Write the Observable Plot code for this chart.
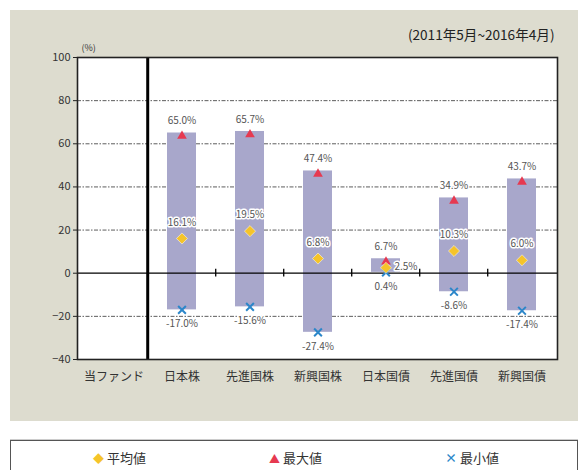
<!DOCTYPE html>
<html><head><meta charset="utf-8">
<script src="https://cdn.jsdelivr.net/npm/d3@7"></script>
<script src="https://cdn.jsdelivr.net/npm/@observablehq/plot@0.6"></script>
<style>
html,body{margin:0;padding:0;background:#fff;width:583px;height:470px;overflow:hidden;font-family:"Noto Sans CJK JP","Noto Sans",sans-serif;}
#panel{position:absolute;left:10px;top:10px;width:568px;height:411px;background:#dddccf;}
#legend{position:absolute;left:10px;top:440px;width:566px;height:40px;border:1px solid #555;background:#fff;box-shadow:0 -1px 0 #ccc;}
.li{position:absolute;top:7px;font-size:13px;color:#333;white-space:nowrap;}
.li span{display:inline-block;margin-right:3px;}
</style></head>
<body>
<div id="panel"></div>
<div id="legend">
  <div class="li" style="left:82px"><span style="color:#f5c42a;font-size:11px">◆</span>平均値</div>
  <div class="li" style="left:258px"><span style="color:#e63950;font-size:11px">▲</span>最大値</div>
  <div class="li" style="left:434px"><span style="color:#2b86c9;font-size:12px;font-weight:bold">×</span>最小値</div>
</div>
<script>
const categories = ["当ファンド","日本株","先進国株","新興国株","日本国債","先進国債","新興国債"];
const assets = ["日本株","先進国株","新興国株","日本国債","先進国債","新興国債"];
const maxValues = [65.0, 65.7, 47.4, 6.7, 34.9, 43.7];
const avgValues = [16.1, 19.5, 6.8, 2.5, 10.3, 6.0];
const minValues = [-17.0, -15.6, -27.4, 0.4, -8.6, -17.4];
const yTicks = [-40, -20, 0, 20, 40, 60, 80, 100];
const gridValues = [-20, 20, 40, 60, 80];
const periodLabel = "(2011年5月~2016年4月)";
const unitLabel = "(%)";

const data = assets.map((c, i) => ({cat: c, max: maxValues[i], avg: avgValues[i], min: minValues[i]}));
const fmt = v => v.toFixed(1) + "%";

const W = 568, H = 411, mL = 67, mR = 21, mT = 47, mB = 62;
const half = (W - mL - mR) / categories.length / 2;
const halo = {fill: "#555", stroke: "white", strokeWidth: 3, fontSize: 10};

const chart = Plot.plot({
  width: W, height: H,
  marginLeft: mL, marginRight: mR, marginTop: mT, marginBottom: mB,
  style: {background: "transparent", fontFamily: "'Noto Sans CJK JP', sans-serif", color: "#333"},
  x: {type: "band", domain: categories, paddingInner: 0.58, paddingOuter: 0.29, label: null},
  y: {domain: [-40, 100], ticks: yTicks, label: null},
  marks: [
    Plot.frame({fill: "white", stroke: null}),
    Plot.ruleY(gridValues, {stroke: "#333", strokeWidth: 0.8, strokeDasharray: "4,1.5,1.5,1.5"}),
    Plot.barY(data, {x: "cat", y1: "min", y2: "max", fill: "#a8a7cb"}),
    Plot.ruleY([0], {stroke: "black", strokeWidth: 1.3}),
    Plot.ruleX(categories.slice(2), {x: d => d, y1: -1.8, y2: 1.8, dx: -half, stroke: "black", strokeWidth: 1.3}),
    Plot.ruleX([categories[1]], {x: d => d, dx: -half, stroke: "black", strokeWidth: 3}),
    Plot.dot(data, {x: "cat", y: "max", symbol: "triangle", fill: "#e63950", r: 3.6, dy: 3}),
    Plot.dot(data, {x: "cat", y: "min", symbol: "times", stroke: "#2b86c9", strokeWidth: 2, r: 3.6}),
    Plot.dot(data, {x: "cat", y: "avg", symbol: "diamond2", fill: "#f5c42a", stroke: "white", strokeWidth: 0.5, r: 5}),
    Plot.text(data, {x: "cat", y: "max", text: d => fmt(d.max), dy: -12, ...halo}),
    Plot.text(data.filter(d => d.cat !== "日本国債"), {x: "cat", y: "avg", text: d => fmt(d.avg), dy: -16, ...halo}),
    Plot.text(data.filter(d => d.cat === "日本国債"), {x: "cat", y: "avg", text: d => fmt(d.avg), dx: 20, dy: -1, ...halo}),
    Plot.text(data, {x: "cat", y: "min", text: d => fmt(d.min), dy: 14, ...halo}),
    Plot.frame({stroke: "#222", strokeWidth: 1.6}),
    Plot.axisY({ticks: yTicks, tickSize: 4, fontSize: 11, tickPadding: 3, label: null, stroke: "#222"}),
    Plot.axisX({tickSize: 0, tickPadding: 13, fontSize: 12, label: null, fill: "#333"}),
    Plot.text([unitLabel], {frameAnchor: "top-left", text: d => d, dx: 4, dy: -13, fontSize: 9, fill: "#333"}),
    Plot.text([periodLabel], {frameAnchor: "top-right", text: d => d, dx: -3, dy: -27, textAnchor: "end", fontSize: 13.6, fill: "#222"})
  ]
});
chart.style.position = "absolute";
chart.style.left = "10px";
chart.style.top = "10px";
document.body.appendChild(chart);
</script>
</body></html>
